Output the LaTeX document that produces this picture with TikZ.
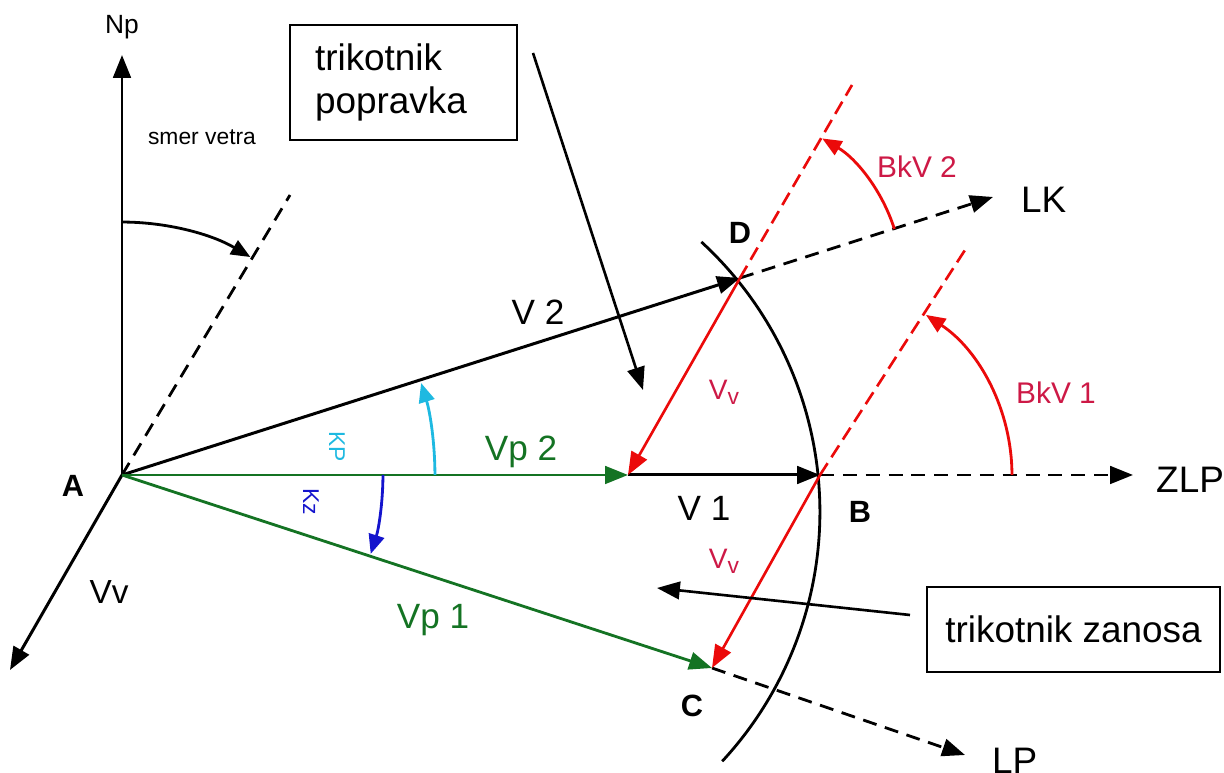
\documentclass[tikz,border=0pt]{standalone}
\usepackage{fontspec}
\setmainfont{Liberation Sans}
\usetikzlibrary{arrows.meta}
\definecolor{vgreen}{RGB}{20,115,35}
\definecolor{vred}{RGB}{235,10,10}
\definecolor{lred}{RGB}{205,25,70}
\definecolor{kcyan}{RGB}{30,185,225}
\definecolor{kblue}{RGB}{20,20,205}
\newcommand{\vvsub}{V\raisebox{-3pt}{\fontsize{13}{15}\selectfont v}}
\tikzset{
  vec/.style={line width=1.7pt,-{Triangle[length=13pt,width=10pt]}},
  gvec/.style={vec,color=vgreen,line width=1.6pt},
  rvec/.style={vec,color=vred,line width=1.5pt},
  bdash/.style={line width=1.6pt,dash pattern=on 8pt off 5pt},
  rdash/.style={line width=1.5pt,color=vred,dash pattern=on 8pt off 4pt},
  arcarrow/.style={line width=1.6pt,-{Triangle[length=11pt,width=9pt]}},
  big/.style={font=\fontsize{21}{25}\selectfont},
  vlab/.style={font=\fontsize{20}{24}\selectfont},
  ptlab/.style={font=\fontsize{17.5}{21}\bfseries},
  boxnode/.style={draw,line width=1.5pt,font=\fontsize{21}{24}\selectfont},
}
\begin{document}
\begin{tikzpicture}[x=0.02cm,y=0.02cm]
\useasboundingbox (0,0) rectangle (1224,773);
% points
\coordinate (A) at (122,298);
\coordinate (Np) at (122,718);
\coordinate (W) at (290,578);
\coordinate (Vvt) at (10,103);
\coordinate (D) at (740,495);
\coordinate (B) at (820,298);
\coordinate (P2) at (628,298);
\coordinate (C) at (712,105);
\coordinate (Dtop) at (852,688);
\coordinate (Btop) at (965,523);
\coordinate (LKt) at (993,576);
\coordinate (ZLPt) at (1133,298);
\coordinate (LPt) at (965,18);
\coordinate (ArcC) at (453,261);
\coordinate (b1s) at (533,720);
\coordinate (b1e) at (643,383);
\coordinate (b2s) at (910,158);
\coordinate (b2e) at (657,185);

% axes and wind
\draw[vec] (A) -- (Np);
\node[font=\fontsize{15}{18}\selectfont] (npl) at (122,746) {Np};
\draw[bdash] (A) -- (W);
\draw[arcarrow] (A) ++(90:5.06cm) arc[start angle=90,end angle=59.5,radius=5.06cm];
\node[font=\fontsize{13}{16}\selectfont] (smer) at (202,636) {smer vetra};
\draw[vec] (A) -- (Vvt);
\node[font=\fontsize{19}{22}\selectfont] (vvl) at (109,181) {Vv};
\node[ptlab] (Al) at (73,287) {A};

% big arc
\draw[line width=1.6pt] (ArcC) ++(47.4:7.34cm) arc[start angle=47.4,end angle=-42.8,radius=7.34cm];

% dashed extensions
\draw[bdash,-{Triangle[length=13pt,width=10pt]}] (D) -- (LKt);
\draw[bdash,-{Triangle[length=13pt,width=10pt]}] (B) -- (ZLPt);
\draw[bdash,-{Triangle[length=13pt,width=10pt]}] (C) -- (LPt);
\node[big,anchor=west] (lk) at (1015,573) {LK};
\node[big,anchor=west] (zlp) at (1150,293) {ZLP};
\node[big,anchor=west] (lp) at (986,12) {LP};

% red dashed wind lines
\draw[rdash] (D) -- (Dtop);
\draw[rdash] (B) -- (Btop);

% vectors
\draw[vec] (A) -- (D);
\draw[vec] (P2) -- (B);
\draw[gvec] (A) -- (P2);
\draw[gvec] (A) -- (C);
\draw[rvec] (D) -- (P2);
\draw[rvec] (B) -- (C);

\node[vlab] (v2) at (538,461) {V 2};
\node[vlab] (v1) at (704,265) {V 1};
\node[vlab,text=vgreen] (vp2) at (521,321) {Vp 2};
\node[vlab,text=vgreen] (vp1) at (433,153) {Vp 1};
\node[font=\fontsize{16}{19}\selectfont,text=lred] (vva) at (724,381) {\vvsub};
\node[font=\fontsize{16}{19}\selectfont,text=lred] (vvb) at (724,212) {\vvsub};

\node[ptlab] (Dl) at (740,540) {D};
\node[ptlab] (Bl) at (860,261) {B};
\node[ptlab] (Cl) at (692,67) {C};

% angle arcs
\draw[arcarrow,color=kcyan] (A) ++(0:6.26cm) arc[start angle=0,end angle=17.1,radius=6.26cm];
\draw[arcarrow,color=kblue] (A) ++(0:5.22cm) arc[start angle=0,end angle=-17.6,radius=5.22cm];
\node[font=\fontsize{13}{16}\selectfont,text=kcyan,rotate=-90] (kp) at (337,326) {KP};
\node[font=\fontsize{13}{16}\selectfont,text=kblue,rotate=-90] (kz) at (311,271) {Kz};

\draw[arcarrow,color=vred] (D) ++(17.6:3.24cm) arc[start angle=17.6,end angle=59.5,radius=3.24cm];
\draw[arcarrow,color=vred] (B) ++(0:3.84cm) arc[start angle=0,end angle=56.5,radius=3.84cm];
\node[font=\fontsize{17}{20}\selectfont,text=lred] (bkv2) at (917,606) {BkV 2};
\node[font=\fontsize{17}{20}\selectfont,text=lred] (bkv1) at (1056,380) {BkV 1};

% boxes
\node[boxnode,align=left,text width=3.54cm,inner xsep=0.5cm,minimum height=2.3cm] (box1) at (403.5,690.5) {trikotnik\\popravka};
\node[boxnode,minimum width=5.86cm,minimum height=1.7cm] (box2) at (1073.5,143.5) {trikotnik zanosa};
\draw[vec,line width=1.5pt] (b1s) -- (b1e);
\draw[vec,line width=1.5pt] (b2s) -- (b2e);
\end{tikzpicture}
\end{document}
